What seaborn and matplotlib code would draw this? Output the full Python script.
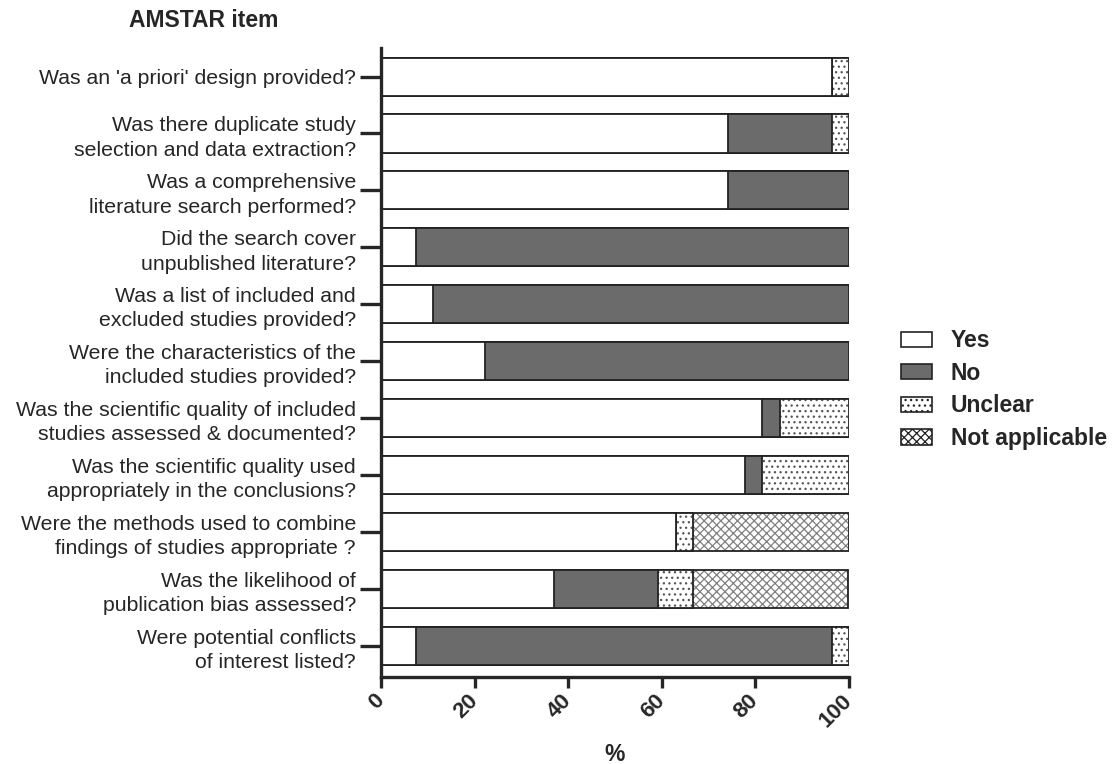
import numpy as np
import pandas as pd
import matplotlib
matplotlib.use("Agg")
import matplotlib.pyplot as plt
import seaborn as sns
from matplotlib.patches import Patch

items = [
    "Was an 'a priori' design provided?",
    "Was there duplicate study\nselection and data extraction?",
    "Was a comprehensive\nliterature search performed?",
    "Did the search cover\nunpublished literature?",
    "Was a list of included and\nexcluded studies provided?",
    "Were the characteristics of the\nincluded studies provided?",
    "Was the scientific quality of included\nstudies assessed & documented?",
    "Was the scientific quality used\nappropriately in the conclusions?",
    "Were the methods used to combine\nfindings of studies appropriate ?",
    "Was the likelihood of\npublication bias assessed?",
    "Were potential conflicts\nof interest listed?",
]
yes = [96.3, 74.1, 74.1, 7.4, 11.1, 22.2, 81.5, 77.8, 63.0, 37.0, 7.4]
no = [0.0, 22.2, 25.9, 92.6, 88.9, 77.8, 3.7, 3.7, 0.0, 22.2, 88.9]
unclear = [3.7, 3.7, 0.0, 0.0, 0.0, 0.0, 14.8, 18.5, 3.7, 7.4, 3.7]
not_applicable = [0.0, 0.0, 0.0, 0.0, 0.0, 0.0, 0.0, 0.0, 33.3, 33.3, 0.0]

df = pd.DataFrame({"item": items, "Yes": yes, "No": no,
                   "Unclear": unclear, "Not applicable": not_applicable})

sns.set_style("ticks")
plt.rcParams["font.family"] = ["Liberation Sans", "DejaVu Sans"]
plt.rcParams["hatch.linewidth"] = 0.9

fig = plt.figure(figsize=(11.17, 7.64), dpi=100)
ax = fig.add_axes([0.341, 0.114, 0.419, 0.823])

cats = ["Yes", "No", "Unclear", "Not applicable"]
fills = {"Yes": "white", "No": "#6b6b6b", "Unclear": "white", "Not applicable": "white"}
hatches = {"Yes": None, "No": None, "Unclear": "...", "Not applicable": "xxxx"}
hcol = {"Yes": "#333333", "No": "#333333", "Unclear": "#555555", "Not applicable": "#808080"}
bw = 0.67

# stacked: draw cumulative totals from the back
cum = df[cats].cumsum(axis=1)
for c in reversed(cats):
    n0 = len(ax.patches)
    sns.barplot(x=cum[c], y=df["item"], orient="h", color=fills[c], width=bw,
                saturation=1, ax=ax, edgecolor=hcol[c], linewidth=0)
    for p in ax.patches[n0:]:
        p.set_facecolor(fills[c])
        if hatches[c]:
            p.set_hatch(hatches[c])
    # outlines
    n0 = len(ax.patches)
    sns.barplot(x=cum[c], y=df["item"], orient="h", color="white", width=bw,
                saturation=1, ax=ax, edgecolor="#222222", linewidth=1.3)
    for p in ax.patches[n0:]:
        p.set_facecolor("none")

ax.set_xlim(0, 100)
ax.set_ylim(10.55, -0.5)
ax.set_xticks([0, 20, 40, 60, 80, 100])
ax.set_xticklabels(["0", "20", "40", "60", "80", "100"], rotation=45,
                   fontweight="bold", fontsize=16, ha="right", va="center",
                   rotation_mode="anchor")
ax.tick_params(axis="x", length=8, width=2.4, pad=7)
ax.tick_params(axis="y", length=15, width=2.4, labelsize=15.3, pad=3)
for lab in ax.get_yticklabels():
    lab.set_ha("right")
    lab.set_multialignment("right")
    lab.set_linespacing(1.35)
for s in ["left", "bottom"]:
    ax.spines[s].set_linewidth(2.4)
sns.despine(ax=ax)
ax.set_ylabel("")
ax.set_xlabel("%", fontweight="bold", fontsize=16.5, labelpad=8)

fig.text(0.182, 0.973, "AMSTAR item", fontweight="bold", fontsize=16.5,
         ha="center", va="center")

handles = [Patch(facecolor=fills[c], edgecolor="#222222", hatch=hatches[c], linewidth=1.2)
           for c in cats]
leg = fig.legend(handles, cats, loc="center left", bbox_to_anchor=(0.807, 0.49),
                 frameon=False, prop={"weight": "bold", "size": 16.5},
                 handlelength=1.35, handleheight=0.65, handletextpad=0.8,
                 labelspacing=0.42, borderaxespad=0, borderpad=0)

fig.savefig("out.png", dpi=100)
